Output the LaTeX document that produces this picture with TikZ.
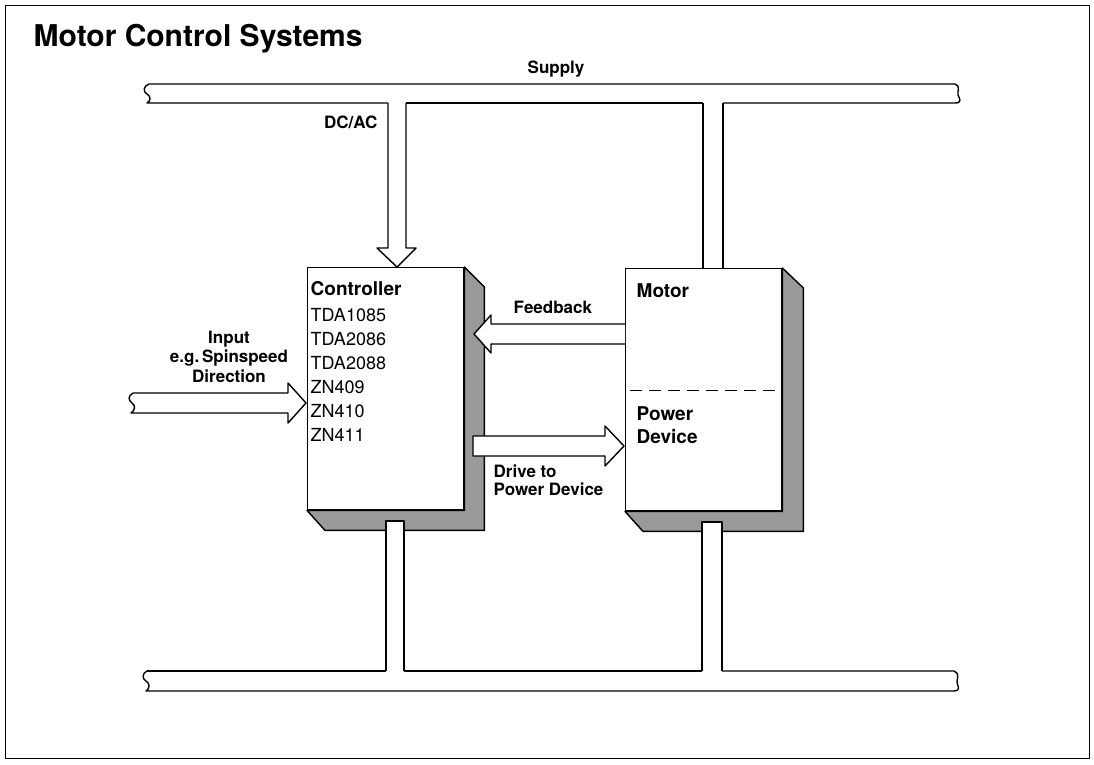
\documentclass[tikz,border=0pt]{standalone}
\usepackage{fontspec}
\setmainfont{TeX Gyre Heros}
\usetikzlibrary{arrows.meta,positioning,calc}

\begin{document}
\begin{tikzpicture}[x=1pt, y=-1pt, line width=1.4pt, line join=round,
    block/.style={rectangle, draw, fill=white, minimum width=156pt,
                  minimum height=242pt, inner sep=0pt},
    shadow/.style={draw, fill=black!40},
    pipe/.style={draw, fill=white},
    lbl/.style={font=\bfseries\fontsize{17}{18.5}\selectfont, inner sep=0pt, align=left},
    part/.style={font=\fontsize{18}{24}\selectfont, inner sep=0pt, align=left}]
    \useasboundingbox (0,0) rectangle (1094,764);
    \draw[line width=0.8pt] (5,5) rectangle (1089,758);
    \node[font=\bfseries\fontsize{30}{34}\selectfont, anchor=base west, inner sep=0pt] (title) at (33,46) {Motor Control Systems};

    \node[block, anchor=north west] (ctrl) at (307,267) {};
    \node[block, anchor=north west] (motor) at (625,268) {};
    \draw[shadow] (ctrl.north east) -- ++(20,20) -- ($(ctrl.south east)+(20,20)$)
        -- ($(ctrl.south west)+(18,20)$) -- (ctrl.south west) -- (ctrl.south east) -- cycle;
    \draw[shadow] (motor.north east) -- ++(21,20) -- ($(motor.south east)+(21,20)$)
        -- ($(motor.south west)+(18,20)$) -- (motor.south west) -- (motor.south east) -- cycle;
    \draw[dash pattern=on 12pt off 7pt] ($(motor.west)+(5,1)$) -- ($(motor.east)+(-2,1)$);

    \draw (149,84) -- (955,84) .. controls (961,86) and (957,92) .. (958,95)
        .. controls (960,99) and (962,103) .. (955,103) -- (723,103);
    \draw (703,103) -- (406,103);
    \draw (388,103) -- (147,103) .. controls (151,101) and (151,96) .. (147,94)
        .. controls (143,92) and (143,86) .. (149,84);
    \draw (703,103) -- (motor.north -| 703,0);
    \draw (723,103) -- (motor.north -| 723,0);
    \draw[pipe] (388,103) -- (388,248) -- (377,248) -- (397,267) -- (416,248) -- (406,248) -- (406,103);

    \draw (147,671) -- (386,671);
    \draw (404,671) -- (702,671);
    \draw (722,671) -- (954,671) .. controls (960,673) and (957,679) .. (957,682)
        .. controls (957,686) and (962,690) .. (954,691) -- (146,691)
        .. controls (150,689) and (150,683) .. (146,681)
        .. controls (142,679) and (142,673) .. (147,671);
    \draw[pipe] (386,671) -- (386,521) -- (404,521) -- (404,671);
    \draw[pipe] (702,671) -- (702,522) -- (722,522) -- (722,671);

    \draw[pipe] (625,324) -- (491,324) -- (491,315) -- (474,334) -- (491,353) -- (491,344) -- (625,344);
    \draw[pipe] (473,436) -- (605,436) -- (605,426) -- (624,446) -- (605,466) -- (605,456) -- (473,456) -- cycle;
    \draw[pipe] (133,393) -- (288,393) -- (288,383) -- (306,403) -- (288,423) -- (288,413) -- (131,413)
        .. controls (135,410) and (136,406) .. (132,403) .. controls (128,400) and (128,396) .. (133,393);

    \node[lbl, anchor=base west] (supply) at (527,73) {Supply};
    \node[lbl, anchor=base east] (dcac) at (378,128) {DC/AC};
    \node[part, anchor=north west] (chips) at (310,281)
        {{\bfseries\fontsize{19}{24}\selectfont Controller}\\[2pt]TDA1085\\TDA2086\\TDA2088\\ZN409\\ZN410\\ZN411};
    \node[lbl, anchor=base west] (fb) at (513,313) {Feedback};
    \node[lbl, anchor=north, align=center, font=\bfseries\fontsize{17}{19.5}\selectfont] (input) at (229,330)
        {Input\\e.g.\,Spinspeed\\Direction};
    \node[lbl, anchor=north west] (drive) at (493,464) {Drive to\\Power Device};
    \node[lbl, anchor=base west, font=\bfseries\fontsize{19}{23}\selectfont] (mot) at (636,297) {Motor};
    \node[lbl, anchor=north west, font=\bfseries\fontsize{19}{23}\selectfont] (pdev) at (636,406) {Power\\Device};
\end{tikzpicture}
\end{document}
